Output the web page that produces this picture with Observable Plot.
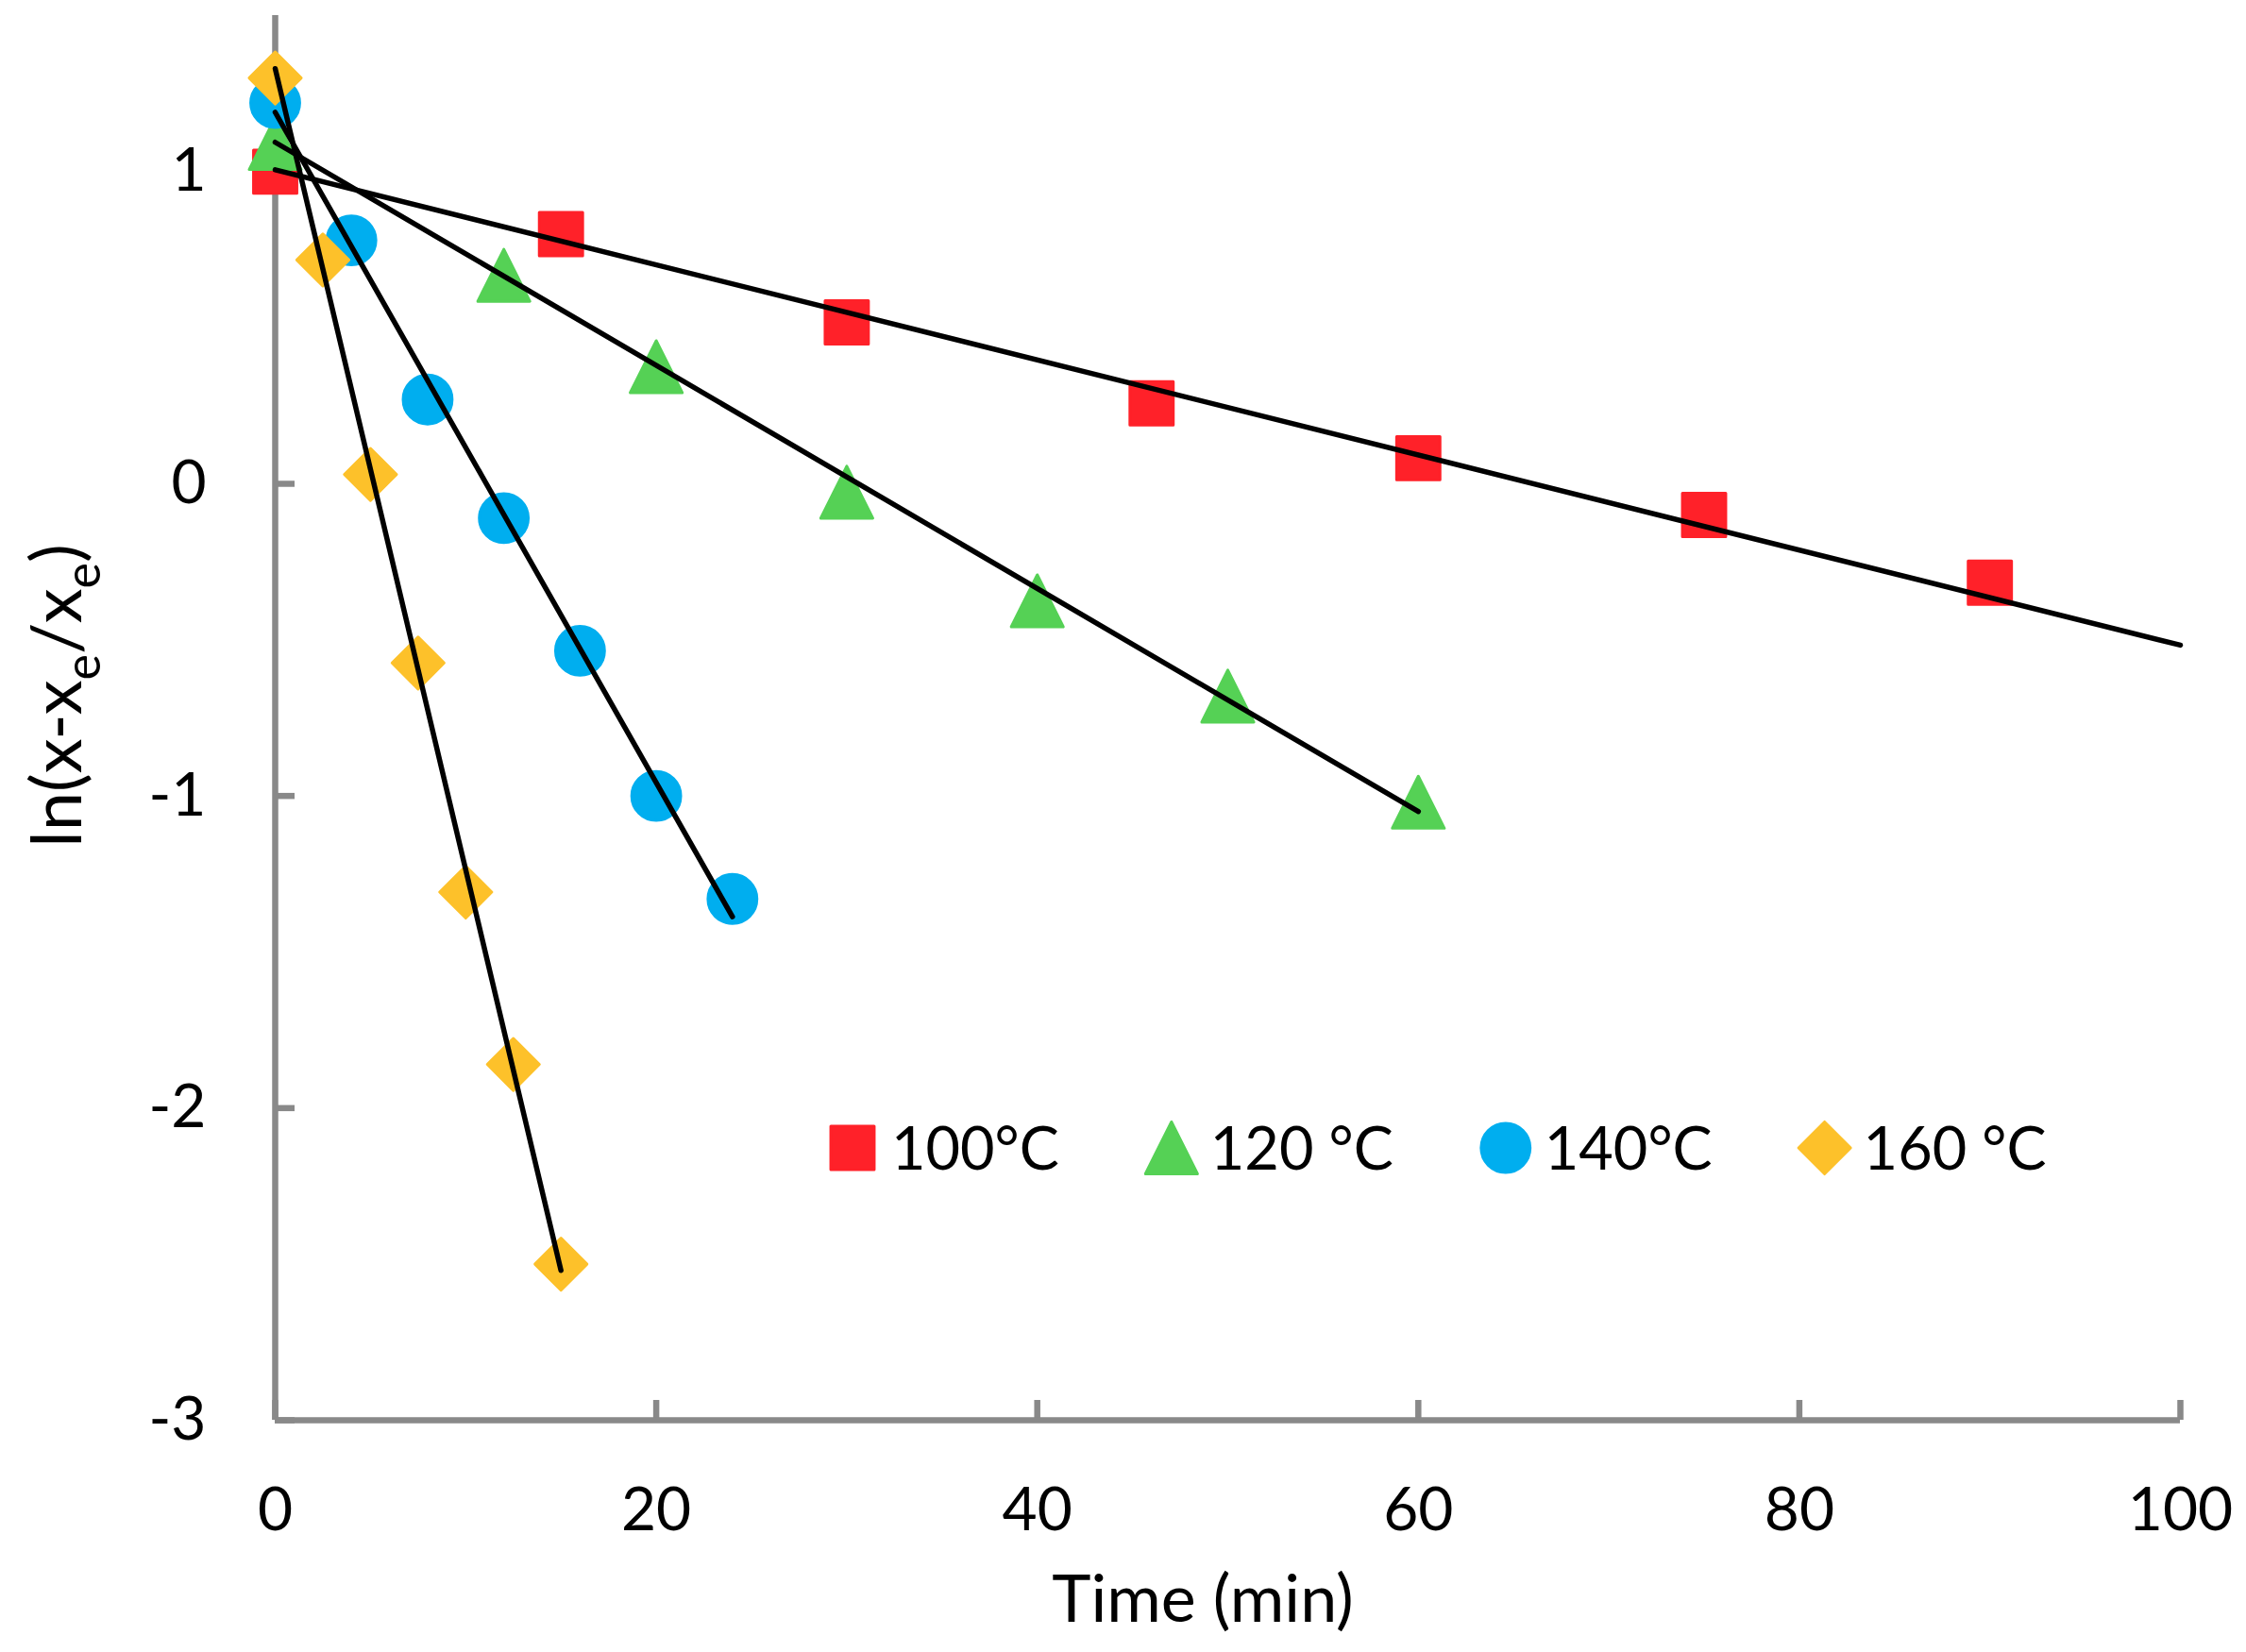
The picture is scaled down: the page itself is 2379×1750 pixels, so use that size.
<!DOCTYPE html>
<html>
<head>
<meta charset="utf-8">
<script src="https://cdn.jsdelivr.net/npm/d3@7"></script>
<script src="https://cdn.jsdelivr.net/npm/@observablehq/plot@0.6"></script>
<style>
  body { margin: 0; background: #fff; }
  #chart { width: 2379px; height: 1750px; }
</style>
</head>
<body>
<div id="chart"></div>
<script>
// series names and colours
const series = ["100°C", "120 °C", "140°C", "160 °C"];
const colors = ["#ff2129", "#55d155", "#00aeef", "#fdc12a"];

// measured points (time in min, ln value)
const t100 = [0, 15, 30, 46, 60, 75, 90];
const y100 = [1.0, 0.80, 0.517, 0.258, 0.082, -0.10, -0.317];
const t120 = [0, 12, 20, 30, 40, 50, 60];
const y120 = [1.09, 0.668, 0.375, -0.027, -0.375, -0.68, -1.02];
const t140 = [0, 4, 8, 12, 16, 20, 24];
const y140 = [1.22, 0.78, 0.27, -0.11, -0.535, -1.0, -1.33];
const t160 = [0, 2.5, 5, 7.5, 10, 12.5, 15];
const y160 = [1.30, 0.717, 0.03, -0.574, -1.308, -1.86, -2.50];

// linear trend lines, start and end
const fitT100 = [0, 100], fitY100 = [1.006, -0.517];
const fitT120 = [0, 60], fitY120 = [1.094, -1.05];
const fitT140 = [0, 24], fitY140 = [1.19, -1.387];
const fitT160 = [0, 15], fitY160 = [1.33, -2.52];

const xTicks = [0, 20, 40, 60, 80, 100];
const yTicks = [-3, -2, -1, 0, 1];

const axisGray = "#898989";

// marker shapes, sized from the dot radius
const rad = size => Math.sqrt(size / Math.PI);
const symSquare = {draw(ctx, size) { const h = rad(size) * 0.85; ctx.rect(-h, -h, 2 * h, 2 * h); }};
const symTriangle = {draw(ctx, size) {
  const h = rad(size) * 1.02;
  ctx.moveTo(0, -h); ctx.lineTo(h, h); ctx.lineTo(-h, h); ctx.closePath();
}};
const symCircle = {draw(ctx, size) { const h = rad(size) * 0.96; ctx.moveTo(h, 0); ctx.arc(0, 0, h, 0, 2 * Math.PI); }};
const symDiamond = {draw(ctx, size) {
  const h = rad(size) * 1.02;
  ctx.moveTo(0, -h); ctx.lineTo(h, 0); ctx.lineTo(0, h); ctx.lineTo(-h, 0); ctx.closePath();
}};
const symbols = [symSquare, symTriangle, symCircle, symDiamond];

const rows = (ts, ys) => ts.map((t, i) => ({t, v: ys[i]}));
const pointSets = [rows(t100, y100), rows(t120, y120), rows(t140, y140), rows(t160, y160)];
const fitSets = [rows(fitT100, fitY100), rows(fitT120, fitY120), rows(fitT140, fitY140), rows(fitT160, fitY160)];

const R = 27;
const plain = d => `${d}`;

const chart = Plot.plot({
  width: 2379,
  height: 1750,
  marginLeft: 291,
  marginRight: 70,
  marginTop: 16,
  marginBottom: 246,
  style: {fontFamily: "Lato", fontSize: "64px", color: "black", background: "white"},
  x: {domain: [0, 100]},
  y: {domain: [-3, 1.5]},
  marks: [
    // tick labels
    Plot.axisX({ticks: xTicks, tickSize: 0, tickPadding: 71, tickFormat: plain, label: null}),
    Plot.axisY({ticks: yTicks, tickSize: 0, tickPadding: 73, tickFormat: plain, label: null}),
    // short inner ticks
    Plot.axisX({ticks: xTicks, tickSize: 21, dy: -21, stroke: axisGray, strokeWidth: 6.5, fill: "none", label: null}),
    Plot.axisY({ticks: yTicks, tickSize: 21, dx: 21, stroke: axisGray, strokeWidth: 6.5, fill: "none", label: null}),
    // axis lines
    Plot.ruleX([0], {stroke: axisGray, strokeWidth: 6.5}),
    Plot.ruleY([-3], {stroke: axisGray, strokeWidth: 6.5}),
    ...pointSets.map((d, i) => Plot.dot(d, {
      x: "t", y: "v", r: R, symbol: symbols[i],
      fill: colors[i], stroke: colors[i], strokeWidth: 3, strokeLinejoin: "round"
    })),
    ...fitSets.map(d => Plot.line(d, {x: "t", y: "v", stroke: "black", strokeWidth: 5.5}))
  ]
});

const svg = d3.select(chart);

// y label with subscripts
const yl = svg.append("text")
  .attr("transform", "translate(86,737) rotate(-90)")
  .attr("text-anchor", "middle")
  .style("font-family", "Lato")
  .style("font-size", "74px")
  .attr("fill", "black");
yl.append("tspan").text("ln(x-x");
yl.append("tspan").attr("dy", 20).style("font-size", "52px").text("e");
yl.append("tspan").attr("dy", -20).text("/x");
yl.append("tspan").attr("dy", 20).style("font-size", "52px").text("e");
yl.append("tspan").attr("dy", -20).text(")");

// x label
svg.append("text")
  .attr("x", 1274).attr("y", 1718)
  .attr("text-anchor", "middle")
  .style("font-family", "Lato")
  .style("font-size", "70px")
  .attr("fill", "black")
  .text("Time (min)");

// legend inside the plot
const lg = svg.append("g")
  .attr("text-anchor", "start")
  .style("font-family", "Lato")
  .style("font-size", "63px");
series.forEach((name, i) => {
  lg.append("path")
    .attr("d", d3.symbol(symbols[i], Math.PI * R * R)())
    .attr("fill", colors[i]).attr("stroke", colors[i])
    .attr("stroke-width", 3).attr("stroke-linejoin", "round");
  lg.append("text").attr("y", 1239).attr("fill", "black").text(name);
});

d3.select("#chart").append(() => chart);

// place legend entries once the text can be measured
let cx = 903;
const texts = lg.selectAll("text").nodes();
lg.selectAll("path").each(function (_, i) {
  d3.select(this).attr("transform", `translate(${cx},1216)`);
  d3.select(texts[i]).attr("x", cx + 41);
  cx += 41 + texts[i].getComputedTextLength() + 119;
});
</script>
</body>
</html>
